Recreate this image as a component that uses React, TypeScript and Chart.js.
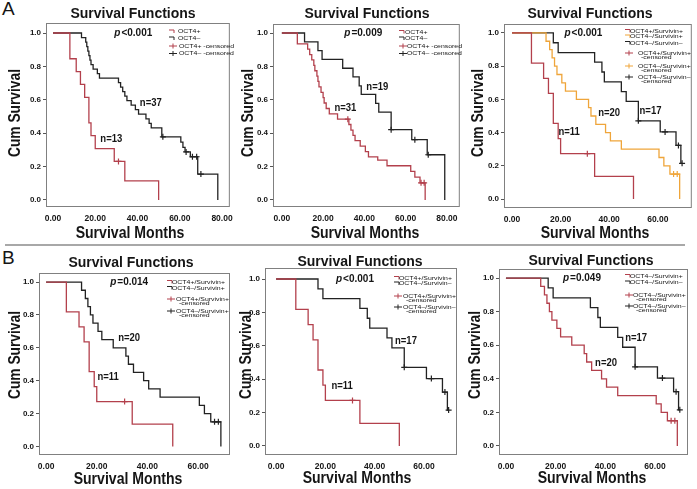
import React, { useEffect, useRef } from 'react';
import { Chart, registerables } from 'chart.js';

Chart.register(...registerables);

const FONT = '"Liberation Sans", Arial, Helvetica, sans-serif';
Chart.defaults.font.family = FONT;

const RED = '#b3404c';
const BLACK = '#222222';
const ORANGE = '#efa53a';
const TEXT = '#151515';

// ---------- tick labels ----------
const monthTicksA = [0, 20, 40, 60, 80];
const monthTicksB = [0, 20, 40, 60];
const survTicks = [0, 0.2, 0.4, 0.6, 0.8, 1.0];

// ---------- A1: OCT4+ (n=13) / OCT4- (n=37) ----------
const a1PosT = [0, 8, 11, 13, 15, 17, 18, 20, 29, 34, 50];
const a1PosS = [1, 0.846, 0.769, 0.692, 0.615, 0.462, 0.385, 0.308, 0.231, 0.115, 0];
const a1PosCensT = [31];
const a1PosCensS = [0.231];

const a1NegT = [0, 13.5, 15.5, 16, 16.5, 17, 17.5, 18, 19, 21, 22, 31, 32, 33, 34, 35, 37, 39, 40.5, 44, 45.5, 46.5, 51.5, 60.5, 61.5, 62.5, 65, 68.5, 70, 78];
const a1NegS = [1, 0.973, 0.946, 0.919, 0.892, 0.865, 0.838, 0.811, 0.784, 0.757, 0.73, 0.703, 0.676, 0.649, 0.622, 0.595, 0.568, 0.541, 0.514, 0.486, 0.459, 0.432, 0.378, 0.346, 0.315, 0.288, 0.259, 0.155, 0.155, 0];
const a1NegCensT = [52, 63, 66, 68, 70];
const a1NegCensS = [0.378, 0.288, 0.259, 0.259, 0.155];

// ---------- A2: OCT4+ (n=31) / OCT4- (n=19) ----------
const a2PosT = [0, 7.5, 12.5, 13.5, 14.5, 15.5, 16, 17, 17.5, 18, 19, 20, 20.5, 21.5, 23, 27, 32.5, 33.5, 34.5, 35.5, 38, 40.5, 42, 46.5, 51, 62.5, 64.5, 67, 69.5];
const a2PosS = [1, 0.935, 0.903, 0.871, 0.839, 0.806, 0.774, 0.742, 0.71, 0.677, 0.645, 0.613, 0.581, 0.548, 0.516, 0.484, 0.452, 0.419, 0.387, 0.355, 0.323, 0.29, 0.258, 0.239, 0.205, 0.171, 0.137, 0.103, 0];
const a2PosCensT = [32, 67.5, 69];
const a2PosCensS = [0.484, 0.103, 0.103];

const a2NegT = [0, 11, 17.5, 19.5, 29.5, 34.5, 37.5, 38.5, 45.5, 47, 53, 63, 70.5, 79];
const a2NegS = [1, 0.947, 0.895, 0.842, 0.789, 0.737, 0.684, 0.632, 0.579, 0.526, 0.421, 0.361, 0.271, 0];
const a2NegCensT = [53, 64.5, 71];
const a2NegCensS = [0.421, 0.361, 0.271];

// ---------- A3 / B: OCT4+/Survivin+ (n=11), OCT4-/Survivin+ (n=20), OCT4-/Survivin- (n=17) ----------
const ppT = [0, 8, 13, 15, 17, 19, 20, 34, 50];
const ppS = [1, 0.818, 0.727, 0.636, 0.455, 0.364, 0.273, 0.136, 0];
const ppCensT = [31];
const ppCensS = [0.273];

const npT = [0, 14, 15.5, 16.5, 17.5, 18.5, 20.5, 22, 26.5, 31.5, 32.5, 34.5, 38.5, 40.5, 45, 60.5, 62.5, 65, 69];
const npS = [1, 0.95, 0.9, 0.85, 0.8, 0.75, 0.7, 0.65, 0.6, 0.55, 0.5, 0.45, 0.4, 0.35, 0.3, 0.25, 0.2, 0.15, 0];
const npCensT = [66.5, 68];
const npCensS = [0.15, 0.15];

const nnT = [0, 17, 19, 34, 37, 38, 45, 47, 52, 61, 67.5, 69.5, 70];
const nnS = [1, 0.941, 0.882, 0.824, 0.765, 0.706, 0.647, 0.588, 0.471, 0.404, 0.323, 0.215, 0.215];
const nnCensT = [52, 63, 68.5, 70];
const nnCensS = [0.471, 0.404, 0.323, 0.215];

// ---------- labels ----------
const pValues = ['<0.001', '=0.009', '<0.001', '=0.014', '<0.001', '=0.049'];
const D = '\u2013';

type Curve = { t: number[]; s: number[]; ct: number[]; cs: number[]; color: string };
type LegendItem = { kind: 'line' | 'cens'; color: string; lines: string[]; y: number; tx: number };
type PanelCfg = {
  cl: number; ct: number; w: number; h: number;
  box: { l: number; r: number; t: number; b: number };
  xMin: number; xMax: number; yMin: number; yMax: number; xTicks: number[];
  curves: Curve[];
  title: [number, number]; xTitle: [number, number]; yTitle: [number, number];
  p: string; pAt: [number, number];
  nLabels: { x: number; y: number; text: string }[];
  legendX: number; legend: LegendItem[];
};

const cv = (t: number[], s: number[], ct: number[], cs: number[], color: string): Curve => ({ t, s, ct, cs, color });

const panels: PanelCfg[] = [
  {
    cl: 0, ct: 0, w: 240, h: 245, box: { l: 46, r: 232, t: 23, b: 207 },
    xMin: -3.3, xMax: 83.7, yMin: -0.042, yMax: 1.06, xTicks: monthTicksA,
    curves: [cv(a1PosT, a1PosS, a1PosCensT, a1PosCensS, RED), cv(a1NegT, a1NegS, a1NegCensT, a1NegCensS, BLACK)],
    title: [133, 14], xTitle: [130, 234], yTitle: [16, 113],
    p: pValues[0], pAt: [38, 1.0],
    nLabels: [{ x: 46.3, y: 0.58, text: 'n=37' }, { x: 27.6, y: 0.365, text: 'n=13' }],
    legendX: 169,
    legend: [
      { kind: 'line', color: RED, lines: ['OCT4+'], y: 31.5, tx: 178 },
      { kind: 'line', color: BLACK, lines: ['OCT4' + D], y: 38.5, tx: 178 },
      { kind: 'cens', color: RED, lines: ['OCT4+ -censored'], y: 46, tx: 179 },
      { kind: 'cens', color: BLACK, lines: ['OCT4' + D + ' -censored'], y: 53.5, tx: 179 },
    ],
  },
  {
    cl: 232, ct: 0, w: 233, h: 245, box: { l: 273, r: 461, t: 24, b: 207 },
    xMin: -4.3, xMax: 86.3, yMin: -0.042, yMax: 1.054, xTicks: monthTicksA,
    curves: [cv(a2PosT, a2PosS, a2PosCensT, a2PosCensS, RED), cv(a2NegT, a2NegS, a2NegCensT, a2NegCensS, BLACK)],
    title: [367, 14], xTitle: [365, 234], yTitle: [249, 113],
    p: pValues[1], pAt: [39.5, 1.0],
    nLabels: [{ x: 46.3, y: 0.677, text: 'n=19' }, { x: 30.8, y: 0.55, text: 'n=31' }],
    legendX: 399,
    legend: [
      { kind: 'line', color: RED, lines: ['OCT4+'], y: 32, tx: 405 },
      { kind: 'line', color: BLACK, lines: ['OCT4' + D], y: 38.5, tx: 405 },
      { kind: 'cens', color: RED, lines: ['OCT4+ -censored'], y: 46, tx: 407 },
      { kind: 'cens', color: BLACK, lines: ['OCT4' + D + ' -censored'], y: 53.5, tx: 407 },
    ],
  },
  {
    cl: 465, ct: 0, w: 232, h: 245, box: { l: 504, r: 692, t: 24, b: 208 },
    xMin: -3.3, xMax: 74, yMin: -0.054, yMax: 1.054, xTicks: monthTicksB,
    curves: [cv(ppT, ppS, ppCensT, ppCensS, RED), cv(npT, npS, npCensT, npCensS, ORANGE), cv(nnT, nnS, nnCensT, nnCensS, BLACK)],
    title: [590, 14], xTitle: [595, 234], yTitle: [479, 113],
    p: pValues[2], pAt: [29.4, 1.0],
    nLabels: [{ x: 40, y: 0.518, text: 'n=20' }, { x: 57, y: 0.53, text: 'n=17' }, { x: 23.5, y: 0.4, text: 'n=11' }],
    legendX: 625,
    legend: [
      { kind: 'line', color: RED, lines: ['OCT4+/Survivin+'], y: 31, tx: 630 },
      { kind: 'line', color: ORANGE, lines: ['OCT4' + D + '/Survivin+'], y: 36.5, tx: 630 },
      { kind: 'line', color: BLACK, lines: ['OCT4' + D + '/Survivin' + D], y: 43, tx: 630 },
      { kind: 'cens', color: RED, lines: ['OCT4+/Survivin+', '-censored'], y: 53, tx: 638 },
      { kind: 'cens', color: ORANGE, lines: ['OCT4' + D + '/Survivin+', '-censored'], y: 66, tx: 638 },
      { kind: 'cens', color: BLACK, lines: ['OCT4' + D + '/Survivin' + D, '-censored'], y: 77, tx: 638 },
    ],
  },
  {
    cl: 0, ct: 247, w: 240, h: 242, box: { l: 39, r: 230, t: 273, b: 455 },
    xMin: -2.8, xMax: 72.6, yMin: -0.052, yMax: 1.055, xTicks: monthTicksB,
    curves: [cv(ppT, ppS, ppCensT, ppCensS, RED), cv(npT, npS, npCensT, npCensS, BLACK)],
    title: [131, 263], xTitle: [128, 480], yTitle: [16, 355],
    p: pValues[3], pAt: [32.8, 1.0],
    nLabels: [{ x: 32.8, y: 0.66, text: 'n=20' }, { x: 24.5, y: 0.42, text: 'n=11' }],
    legendX: 167,
    legend: [
      { kind: 'line', color: RED, lines: ['OCT4+/Survivin+'], y: 282, tx: 172 },
      { kind: 'line', color: BLACK, lines: ['OCT4' + D + '/Survivin+'], y: 288, tx: 172 },
      { kind: 'cens', color: RED, lines: ['OCT4+/Survivin+', '-censored'], y: 299, tx: 176 },
      { kind: 'cens', color: BLACK, lines: ['OCT4' + D + '/Survivin+', '-censored'], y: 311, tx: 176 },
    ],
  },
  {
    cl: 232, ct: 247, w: 233, h: 242, box: { l: 265, r: 457, t: 268, b: 455 },
    xMin: -4.5, xMax: 73.4, yMin: -0.054, yMax: 1.066, xTicks: monthTicksB,
    curves: [cv(ppT, ppS, ppCensT, ppCensS, RED), cv(nnT, nnS, nnCensT, nnCensS, BLACK)],
    title: [360, 262], xTitle: [357, 479], yTitle: [247, 355],
    p: pValues[4], pAt: [32, 1.0],
    nLabels: [{ x: 52.7, y: 0.63, text: 'n=17' }, { x: 26.8, y: 0.36, text: 'n=11' }],
    legendX: 394,
    legend: [
      { kind: 'line', color: RED, lines: ['OCT4+/Survivin+'], y: 278, tx: 399 },
      { kind: 'line', color: BLACK, lines: ['OCT4' + D + '/Survivin' + D], y: 283.5, tx: 399 },
      { kind: 'cens', color: RED, lines: ['OCT4+/Survivin+', '-censored'], y: 296, tx: 403 },
      { kind: 'cens', color: BLACK, lines: ['OCT4' + D + '/Survivin' + D, '-censored'], y: 307, tx: 403 },
    ],
  },
  {
    cl: 465, ct: 247, w: 232, h: 242, box: { l: 499, r: 688, t: 269, b: 455 },
    xMin: -2.8, xMax: 73.3, yMin: -0.054, yMax: 1.054, xTicks: monthTicksB,
    curves: [cv(npT, npS, npCensT, npCensS, RED), cv(nnT, nnS, nnCensT, nnCensS, BLACK)],
    title: [591, 261], xTitle: [592, 479], yTitle: [476, 355],
    p: pValues[5], pAt: [30.6, 1.0],
    nLabels: [{ x: 52.4, y: 0.64, text: 'n=17' }, { x: 40.3, y: 0.49, text: 'n=20' }],
    legendX: 625,
    legend: [
      { kind: 'line', color: RED, lines: ['OCT4' + D + '/Survivin+'], y: 276, tx: 630 },
      { kind: 'line', color: BLACK, lines: ['OCT4' + D + '/Survivin' + D], y: 282.5, tx: 630 },
      { kind: 'cens', color: RED, lines: ['OCT4' + D + '/Survivin+', '-censored'], y: 295, tx: 633 },
      { kind: 'cens', color: BLACK, lines: ['OCT4' + D + '/Survivin' + D, '-censored'], y: 306, tx: 633 },
    ],
  },
];

function drawText(
  ctx: CanvasRenderingContext2D, s: string, x: number, y: number, size: number,
  weight: string, sx = 1, align: CanvasTextAlign = 'center', rot = 0, italic = false,
) {
  ctx.save();
  ctx.translate(x, y);
  if (rot) ctx.rotate(rot);
  ctx.scale(sx, 1);
  ctx.font = `${italic ? 'italic ' : ''}${weight} ${size}px ${FONT}`;
  ctx.textAlign = align;
  ctx.textBaseline = 'middle';
  ctx.fillStyle = TEXT;
  ctx.fillText(s, 0, 0);
  ctx.restore();
}

function makePlugin(p: PanelCfg) {
  return {
    id: 'kmDecor',
    afterDatasetsDraw(chart: any) {
      const ctx: CanvasRenderingContext2D = chart.ctx;
      const ca = chart.chartArea;
      const xs = chart.scales.x;
      const ys = chart.scales.y;
      // frame
      ctx.save();
      ctx.strokeStyle = '#808080';
      ctx.lineWidth = 1;
      ctx.strokeRect(ca.left + 0.5, ca.top + 0.5, ca.right - ca.left - 1, ca.bottom - ca.top - 1);
      ctx.restore();
      // titles
      drawText(ctx, 'Survival Functions', p.title[0] - p.cl, p.title[1] - p.ct, 14, 'bold', 1);
      drawText(ctx, 'Survival Months', p.xTitle[0] - p.cl, p.xTitle[1] - p.ct, 16, 'bold', 0.88);
      drawText(ctx, 'Cum Survival', p.yTitle[0] - p.cl, p.yTitle[1] - p.ct, 16, 'bold', 0.86, 'center', -Math.PI / 2);
      // p value
      const px = xs.getPixelForValue(p.pAt[0]);
      const py = ys.getPixelForValue(p.pAt[1]);
      ctx.save();
      ctx.font = `italic bold 10px ${FONT}`;
      const wp = ctx.measureText('p').width;
      ctx.font = `bold 10px ${FONT}`;
      const wr = ctx.measureText(p.p).width;
      ctx.restore();
      const x0 = px - (wp + wr + 1) / 2;
      drawText(ctx, 'p', x0, py, 10, 'bold', 1, 'left', 0, true);
      drawText(ctx, p.p, x0 + wp + 1, py, 10, 'bold', 1, 'left');
      // n labels
      p.nLabels.forEach((n) => {
        drawText(ctx, n.text, xs.getPixelForValue(n.x), ys.getPixelForValue(n.y), 10, 'bold', 0.95);
      });
      // legend
      const sx = p.legendX - p.cl;
      p.legend.forEach((it) => {
        const y = it.y - p.ct;
        ctx.save();
        ctx.strokeStyle = it.color;
        ctx.lineWidth = 1;
        ctx.beginPath();
        if (it.kind === 'line') {
          ctx.moveTo(sx, y - 1.5);
          ctx.lineTo(sx + 5, y - 1.5);
          ctx.lineTo(sx + 5, y + 1.5);
        } else {
          ctx.moveTo(sx, y);
          ctx.lineTo(sx + 8, y);
          ctx.moveTo(sx + 4, y - 2.5);
          ctx.lineTo(sx + 4, y + 2.5);
        }
        ctx.stroke();
        ctx.restore();
        it.lines.forEach((s, k) => {
          drawText(ctx, s, it.tx - p.cl + (k ? 3 : 0), y + k * 4.7, 6, 'normal', 1.15, 'left');
        });
      });
    },
  };
}

function buildConfig(p: PanelCfg): any {
  const datasets: any[] = [];
  p.curves.forEach((c) => {
    datasets.push({
      type: 'line',
      data: c.t.map((t, i) => ({ x: t, y: c.s[i] })),
      borderColor: c.color,
      borderWidth: 1.3,
      stepped: 'before',
      pointRadius: 0,
      fill: false,
    });
    datasets.push({
      type: 'scatter',
      data: c.ct.map((t, i) => ({ x: t, y: c.cs[i] })),
      pointStyle: 'cross',
      pointRadius: 3,
      borderColor: c.color,
      backgroundColor: c.color,
      pointBorderColor: c.color,
      borderWidth: 1.2,
      pointBorderWidth: 1.2,
      showLine: false,
    });
  });
  return {
    type: 'line',
    data: { datasets },
    options: {
      responsive: false,
      animation: false,
      devicePixelRatio: 1,
      events: [],
      layout: { padding: { left: 0, top: p.box.t - p.ct, right: p.cl + p.w - p.box.r, bottom: 0 } },
      plugins: { legend: { display: false }, title: { display: false }, tooltip: { enabled: false } },
      scales: {
        x: {
          type: 'linear',
          position: 'bottom',
          min: p.xMin,
          max: p.xMax,
          afterBuildTicks: (s: any) => { s.ticks = p.xTicks.map((v) => ({ value: v })); },
          afterFit: (s: any) => { s.height = p.ct + p.h - p.box.b; },
          grid: { display: false, drawTicks: false, tickLength: 0 },
          border: { display: false },
          ticks: {
            font: { size: 8.5, weight: 'bold' },
            color: TEXT,
            padding: 7,
            maxRotation: 0,
            autoSkip: false,
            callback: (v: any) => Number(v).toFixed(2),
          },
        },
        y: {
          type: 'linear',
          min: p.yMin,
          max: p.yMax,
          afterBuildTicks: (s: any) => { s.ticks = survTicks.map((v) => ({ value: v })); },
          afterFit: (s: any) => { s.width = p.box.l - p.cl; },
          grid: { display: true, drawOnChartArea: false, drawTicks: true, tickLength: 3, color: '#555' },
          border: { display: false },
          ticks: {
            font: { size: 8, weight: 'bold' },
            color: TEXT,
            padding: 2,
            autoSkip: false,
            callback: (v: any) => Number(v).toFixed(1),
          },
        },
      },
    },
    plugins: [makePlugin(p)],
  };
}

function Panel({ cfg }: { cfg: PanelCfg }) {
  const ref = useRef<HTMLCanvasElement | null>(null);
  useEffect(() => {
    if (!ref.current) return;
    const chart = new Chart(ref.current, buildConfig(cfg));
    return () => chart.destroy();
  }, [cfg]);
  return (
    <canvas
      ref={ref}
      width={cfg.w}
      height={cfg.h}
      style={{ position: 'absolute', left: cfg.cl, top: cfg.ct, width: cfg.w, height: cfg.h }}
    />
  );
}

export default function App() {
  return (
    <div style={{ position: 'absolute', left: 0, top: 0, width: 697, height: 489, background: '#fff', overflow: 'hidden', fontFamily: FONT }}>
      <div style={{ position: 'absolute', left: 2, top: -1, fontSize: 19, lineHeight: '20px', color: TEXT }}>A</div>
      <div style={{ position: 'absolute', left: 2, top: 248, fontSize: 19, lineHeight: '20px', color: TEXT }}>B</div>
      <div style={{ position: 'absolute', left: 5, top: 244, width: 680, height: 2, background: '#a8a8a8' }} />
      {panels.map((p, i) => (
        <Panel key={i} cfg={p} />
      ))}
    </div>
  );
}
